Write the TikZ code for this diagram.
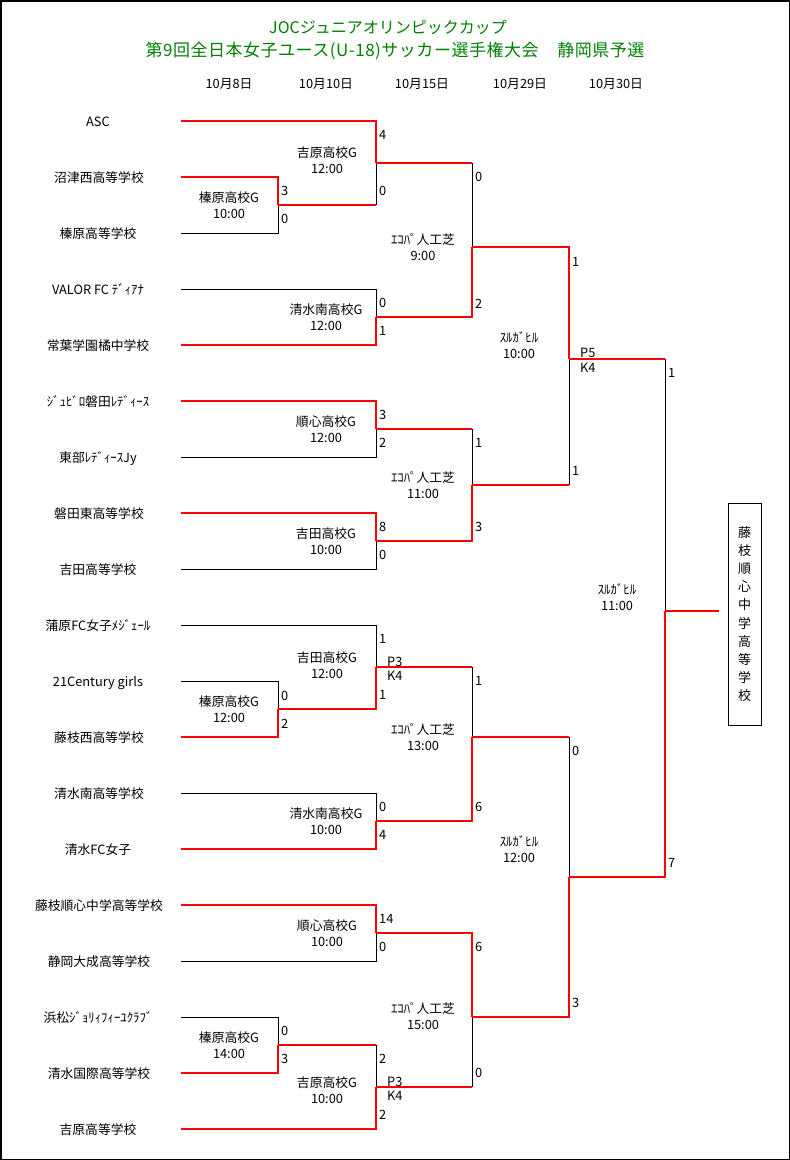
\documentclass[tikz,border=0pt]{standalone}
\usepackage{fontspec}
\setmainfont{Noto Sans CJK JP}
\newfontfamily\ttlfont[LetterSpace=3]{Noto Sans CJK JP}
\definecolor{ttl}{RGB}{0,128,0}
\definecolor{wred}{RGB}{255,0,0}
\begin{document}
\begin{tikzpicture}[x=1pt,y=-1pt,
  lose/.style={draw=black,line width=0.9pt},
  win/.style={draw=wred,line width=2.2pt,line join=miter},
  txt/.style={font=\fontsize{12.8}{14}\selectfont,inner sep=0pt,text height=11pt,text depth=1.6pt},
  team/.style={txt},
  venue/.style={txt},
  score/.style={txt,anchor=west},
  datel/.style={txt},
  titlel/.style={text=ttl,inner sep=0pt,text height=14pt,text depth=2pt}]
\useasboundingbox (0,0) rectangle (790,1160);
\draw[line width=1.5pt] (0.75,0.75) rectangle (789.25,1159.25);

% titles
\node[titlel,font=\fontsize{16}{18}\selectfont] (t1) at (388,27) {JOCジュニアオリンピックカップ};
\node[titlel,font=\ttlfont\fontsize{17}{19}\selectfont] (t2) at (395,50) {第9回全日本女子ユース(U-18)サッカー選手権大会\hspace{1.1em}静岡県予選};
\node[datel] (d1) at (229,84) {10月8日};
\node[datel] (d2) at (326,84) {10月10日};
\node[datel] (d3) at (422,84) {10月15日};
\node[datel] (d4) at (520,84) {10月29日};
\node[datel] (d5) at (616,84) {10月30日};

% teams
\node[team] (n1) at (98,121.5) {ASC};
\node[team] (n2) at (99,177.5) {沼津西高等学校};
\node[team] (n3) at (98,233.5) {榛原高等学校};
\node[team] (n4) at (98,289.5) {VALOR FC ﾃﾞｨｱﾅ};
\node[team] (n5) at (98,345.5) {常葉学園橘中学校};
\node[team] (n6) at (98,401.5) {ｼﾞｭﾋﾞﾛ磐田ﾚﾃﾞｨｰｽ};
\node[team] (n7) at (98,457.5) {東部ﾚﾃﾞｨｰｽJy};
\node[team] (n8) at (99,513.5) {磐田東高等学校};
\node[team] (n9) at (98,569.5) {吉田高等学校};
\node[team] (n10) at (98,625.5) {蒲原FC女子ﾒｼﾞｪｰﾙ};
\node[team] (n11) at (98,681.5) {21Century girls};
\node[team] (n12) at (99,737.5) {藤枝西高等学校};
\node[team] (n13) at (99,793.5) {清水南高等学校};
\node[team] (n14) at (98,849.5) {清水FC女子};
\node[team] (n15) at (99,905.5) {藤枝順心中学高等学校};
\node[team] (n16) at (99,961.5) {静岡大成高等学校};
\node[team] (n17) at (98,1017.5) {浜松ｼﾞｮﾘｨﾌｨｰﾕｸﾗﾌﾞ};
\node[team] (n18) at (99,1073.5) {清水国際高等学校};
\node[team] (n19) at (98,1129.5) {吉原高等学校};

% line starts
\foreach \i/\y in {1/121,2/177,3/233,4/289,5/345,6/401,7/457,8/513,9/569,10/625,11/681,12/737,13/793,14/849,15/905,16/961,17/1017,18/1073,19/1129}
  \coordinate (s\i) at (181,\y);

% junctions
\coordinate (m1) at (278,205);
\coordinate (m2) at (278,709);
\coordinate (m3) at (278,1045);
\coordinate (a1) at (376,163);
\coordinate (a2) at (376,317);
\coordinate (a3) at (376,429);
\coordinate (a4) at (376,541);
\coordinate (a5) at (376,667);
\coordinate (a6) at (376,821);
\coordinate (a7) at (376,933);
\coordinate (a8) at (376,1087);
\coordinate (b1) at (472,247);
\coordinate (b2) at (472,485);
\coordinate (b3) at (472,737);
\coordinate (b4) at (472,1017);
\coordinate (c1) at (569,359);
\coordinate (c2) at (569,877);
\coordinate (f) at (665,611);
\coordinate (champ) at (719,611);

% losers (black)
\draw[lose] (s3) -| (m1);
\draw[lose] (s11) -| (m2);
\draw[lose] (s17) -| (m3);
\draw[lose] (m1 -| a1) -- (a1);
\draw[lose] (s4) -| (a2);
\draw[lose] (s7) -| (a3);
\draw[lose] (s9) -| (a4);
\draw[lose] (s10) -| (a5);
\draw[lose] (s13) -| (a6);
\draw[lose] (s16) -| (a7);
\draw[lose] (m3 -| a8) -- (a8);
\draw[lose] (a1 -| b1) -- (b1);
\draw[lose] (a3 -| b2) -- (b2);
\draw[lose] (a5 -| b3) -- (b3);
\draw[lose] (a8 -| b4) -- (b4);
\draw[lose] (b2 -| c1) -- (c1);
\draw[lose] (b3 -| c2) -- (c2);
\draw[lose] (c1 -| f) -- (f);

% red horizontals of losing junctions
\draw[win] (m1) -- (m1 -| a1);
\draw[win] (m3) -- (m3 -| a8);
\draw[win] (a1) -- (a1 -| b1);
\draw[win] (a3) -- (a3 -| b2);
\draw[win] (a5) -- (a5 -| b3);
\draw[win] (a8) -- (a8 -| b4);
\draw[win] (b2) -- (b2 -| c1);
\draw[win] (b3) -- (b3 -| c2);
\draw[win] (c1) -- (c1 -| f);

% winners (red)
\draw[win] (s2) -| (m1);
\draw[win] (s12) -| (m2);
\draw[win] (s18) -| (m3);
\draw[win] (s1) -| (a1);
\draw[win] (s5) -| (a2);
\draw[win] (s6) -| (a3);
\draw[win] (s8) -| (a4);
\draw[win] (m2) -| (a5);
\draw[win] (s14) -| (a6);
\draw[win] (s15) -| (a7);
\draw[win] (s19) -| (a8);
\draw[win] (a2) -| (b1);
\draw[win] (a4) -| (b2);
\draw[win] (a6) -| (b3);
\draw[win] (a7) -| (b4);
\draw[win] (b1) -| (c1);
\draw[win] (b4) -| (c2);
\draw[win] (c2) -| (f);
\draw[win] (f) -- (champ);

% venues
\foreach \n/\x/\y/\p/\q in {
  v1/229/198/榛原高校G/10:00,
  v2/327/153/吉原高校G/12:00,
  v3/326/310/清水南高校G/12:00,
  v4/423/240/ｴｺﾊﾟ人工芝/9:00,
  v5/326/422/順心高校G/12:00,
  v6/326/534/吉田高校G/10:00,
  v7/423/478/ｴｺﾊﾟ人工芝/11:00,
  v8/519/338/ｽﾙｶﾞﾋﾙ/10:00,
  v9/617/590/ｽﾙｶﾞﾋﾙ/11:00,
  v10/327/658/吉田高校G/12:00,
  v11/229/702/榛原高校G/12:00,
  v12/326/814/清水南高校G/10:00,
  v13/423/730/ｴｺﾊﾟ人工芝/13:00,
  v14/519/842/ｽﾙｶﾞﾋﾙ/12:00,
  v15/327/926/順心高校G/10:00,
  v16/229/1038/榛原高校G/14:00,
  v17/327/1083/吉原高校G/10:00,
  v18/423/1009/ｴｺﾊﾟ人工芝/15:00}
{
  \node[venue] (\n a) at (\x,\y) {\p};
  \node[venue] (\n b) at (\x,\y+15.5) {\q};
}

% scores
\node[score] (p1) at (281,191) {3};
\node[score] (p2) at (281,219) {0};
\node[score] (p3) at (379,135) {4};
\node[score] (p4) at (379,191) {0};
\node[score] (p5) at (379,303) {0};
\node[score] (p6) at (379,331) {1};
\node[score] (p7) at (475,177) {0};
\node[score] (p8) at (475,304) {2};
\node[score] (p9) at (379,415) {3};
\node[score] (p10) at (379,443) {2};
\node[score] (p11) at (379,527) {8};
\node[score] (p12) at (379,555) {0};
\node[score] (p13) at (475,443) {1};
\node[score] (p14) at (475,527) {3};
\node[score] (p15) at (572,262) {1};
\node[score] (p16) at (572,471) {1};
\node[score] (pk1) at (580,353) {P5};
\node[score] (pk2) at (580,368) {K4};
\node[score] (p17) at (281,696) {0};
\node[score] (p18) at (281,724) {2};
\node[score] (p19) at (379,639) {1};
\node[score] (p20) at (379,695) {1};
\node[score] (pk3) at (387,662) {P3};
\node[score] (pk4) at (387,676) {K4};
\node[score] (p21) at (379,807) {0};
\node[score] (p22) at (379,835) {4};
\node[score] (p23) at (475,681) {1};
\node[score] (p24) at (475,807) {6};
\node[score] (p25) at (379,919) {14};
\node[score] (p26) at (379,947) {0};
\node[score] (p27) at (281,1031) {0};
\node[score] (p28) at (281,1059) {3};
\node[score] (p29) at (379,1059) {2};
\node[score] (p30) at (379,1115) {2};
\node[score] (pk5) at (387,1082) {P3};
\node[score] (pk6) at (387,1096) {K4};
\node[score] (p31) at (475,947) {6};
\node[score] (p32) at (475,1073) {0};
\node[score] (p33) at (572,751) {0};
\node[score] (p34) at (572,1003) {3};
\node[score] (p35) at (668,373) {1};
\node[score] (p36) at (668,863) {7};

% champion
\node[draw,line width=0.9pt,minimum width=33pt,minimum height=222pt,inner sep=0pt,align=center,font=\fontsize{13}{18.2}\selectfont] (box) at (744.5,614) {藤\\枝\\順\\心\\中\\学\\高\\等\\学\\校};
\end{tikzpicture}
\end{document}
